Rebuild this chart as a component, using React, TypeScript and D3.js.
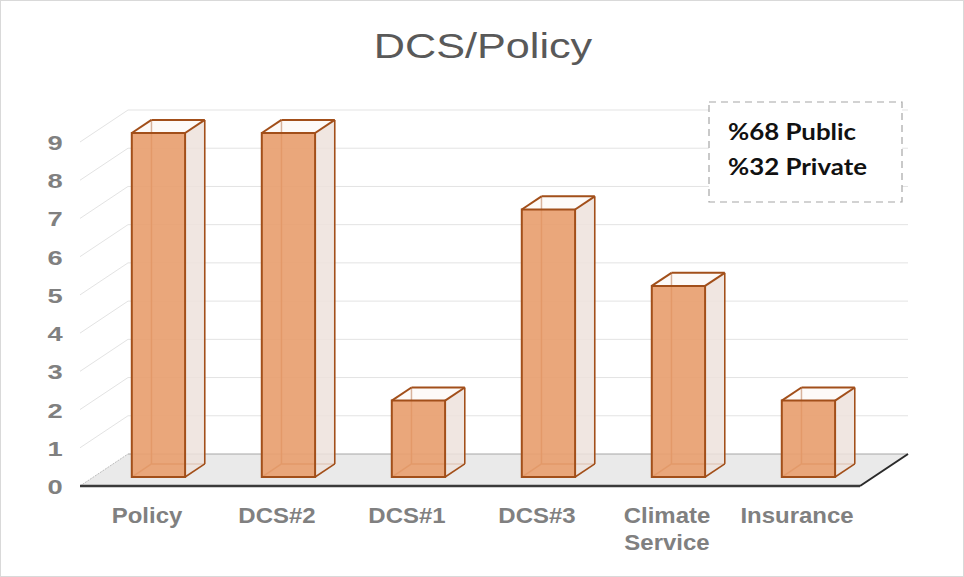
import React from "react";
import * as d3 from "d3";

const categories: string[][] = [["Policy"], ["DCS#2"], ["DCS#1"], ["DCS#3"], ["Climate", "Service"], ["Insurance"]];
const values: number[] = [9, 9, 2, 7, 5, 2];
const yTicks: number[] = [0, 1, 2, 3, 4, 5, 6, 7, 8, 9];
const legendLines: string[] = ["%68 Public", "%32 Private"];
const title = "DCS/Policy";

const W = 964, H = 577;
const floorFrontY = 486;
const depthDX = 48, depthDY = 32;
const zFront = 0.28, zBack = 0.69;

function SText(props: { x: number; y: number; sx: number; anchor?: string; size: number; weight?: string; fill: string; family?: string; children: React.ReactNode }) {
  const { x, y, sx, anchor = "middle", size, weight = "normal", fill, family, children } = props;
  return (
    <text transform={`translate(${x},${y}) scale(${sx},1)`} textAnchor={anchor} fontSize={size} fontWeight={weight} fill={fill} fontFamily={family}>
      {children}
    </text>
  );
}

export default function App() {
  const keys = categories.map((c) => c.join(" "));
  const x = d3.scaleBand<string>().domain(keys).range([80, 860]).padding(0);
  const y = d3.scaleLinear().domain([0, 9]).range([0, 344]);
  const proj = (px: number, v: number, z: number): [number, number] => [px + depthDX * z, floorFrontY - depthDY * z - y(v)];
  const pts = (arr: [number, number][]) => arr.map((p) => p.join(",")).join(" ");
  const line = (a: [number, number], b: [number, number]) => ({ x1: a[0], y1: a[1], x2: b[0], y2: b[1] });

  const floor: [number, number][] = [proj(80, 0, 0), proj(80, 0, 1), proj(860, 0, 1), proj(860, 0, 0)];
  const barW = x.bandwidth() * 0.41;
  const stroke = "#A24F1A";

  return (
    <svg width={W} height={H} style={{ position: "absolute", left: 0, top: 0, background: "#fff" }} fontFamily="'Liberation Sans', Arial, sans-serif">
      <rect x={0.5} y={0.5} width={W - 1} height={H - 1} fill="#fff" stroke="#D9D9D9" />
      <SText x={483} y={58} sx={1.2} size={36} fill="#595959">{title}</SText>

      {/* floor */}
      <polygon points={pts(floor)} fill="#EAEAEA" />
      {/* gridlines */}
      {yTicks.filter((t) => t > 0).map((t) => {
        const a = proj(80, t, 0), b = proj(80, t, 1), c = proj(860, t, 1);
        return (
          <g key={t}>
            <line {...line(a, b)} stroke="#E3E3E3" strokeWidth={1} />
            <line {...line(b, c)} stroke="#E3E3E3" strokeWidth={1} />
          </g>
        );
      })}
      <line {...line(floor[1], floor[2])} stroke="#A6A6A6" strokeWidth={1} />
      <line {...line(floor[0], floor[1])} stroke="#BDBDBD" strokeWidth={1} strokeDasharray="2,1" />
      <line {...line(floor[0], floor[3])} stroke="#3A3A3A" strokeWidth={2.5} />
      <line {...line(floor[3], floor[2])} stroke="#2A2A2A" strokeWidth={2} />

      {/* y tick labels */}
      {yTicks.map((t) => (
        <SText key={t} x={55} y={floorFrontY - y(t) + 8} sx={1.3} size={21} weight="bold" fill="#808080">{t}</SText>
      ))}

      {/* bars */}
      {values.map((v, i) => {
        const cx = (x(keys[i]) as number) + x.bandwidth() / 2;
        const x0 = cx - barW / 2, x1 = cx + barW / 2;
        const fbl = proj(x0, 0, zFront), fbr = proj(x1, 0, zFront), ftl = proj(x0, v, zFront), ftr = proj(x1, v, zFront);
        const bbl = proj(x0, 0, zBack), bbr = proj(x1, 0, zBack), btl = proj(x0, v, zBack), btr = proj(x1, v, zBack);
        return (
          <g key={i}>
            <line {...line(bbl, btl)} stroke={stroke} strokeWidth={1.5} />
            <line {...line(bbl, bbr)} stroke={stroke} strokeWidth={1.5} />
            <line {...line(fbl, bbl)} stroke={stroke} strokeWidth={1.5} />
            <polygon points={pts([fbr, bbr, btr, ftr])} fill="#EDE2DC" fillOpacity={0.85} />
            <polygon points={pts([ftl, ftr, btr, btl])} fill="#FBF6F3" fillOpacity={0.6} />
            <polygon points={pts([fbl, fbr, ftr, ftl])} fill="#E8A070" fillOpacity={0.92} />
            <polygon points={pts([fbl, fbr, ftr, ftl])} fill="none" stroke={stroke} strokeWidth={2} />
            <line {...line(fbr, bbr)} stroke={stroke} strokeWidth={1.6} />
            <line {...line(bbr, btr)} stroke={stroke} strokeWidth={1.6} />
            <line {...line(ftr, btr)} stroke={stroke} strokeWidth={2} />
            <line {...line(ftl, btl)} stroke={stroke} strokeWidth={2} />
            <line {...line(btl, btr)} stroke={stroke} strokeWidth={2} />
          </g>
        );
      })}

      {/* x labels */}
      {categories.map((c, i) => {
        const cx = (x(keys[i]) as number) + x.bandwidth() / 2 + 2;
        return c.map((s, j) => (
          <SText key={`${i}-${j}`} x={cx} y={523 + j * 27} sx={1.09} size={22} weight="bold" fill="#808080">{s}</SText>
        ));
      })}

      {/* legend box */}
      <rect x={709} y={102} width={193} height={100} fill="#fff" stroke="#A6A6A6" strokeWidth={1.2} strokeDasharray="7,5" />
      {legendLines.map((s, i) => (
        <SText key={i} x={728} y={140 + i * 35} sx={1.1} anchor="start" size={23.5} weight="bold" fill="#111" family="Lato, 'Open Sans', sans-serif">{s}</SText>
      ))}
    </svg>
  );
}
